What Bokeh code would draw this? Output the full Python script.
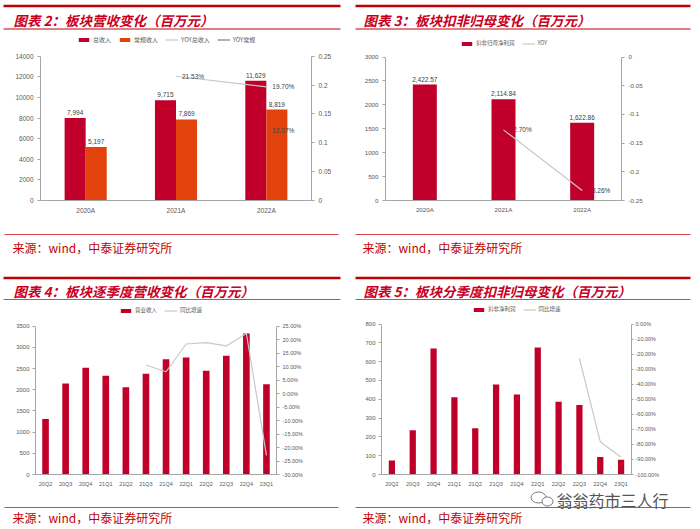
import math
from bokeh.plotting import figure
from bokeh.models import (Range1d, FactorRange, LinearAxis, FixedTicker, NumeralTickFormatter,
                          CustomJSTickFormatter, ColumnDataSource, LabelSet, Legend, LegendItem)
from bokeh.layouts import column, row
from bokeh.transform import dodge
from bokeh.core.properties import value
from bokeh.embed import file_html
from bokeh.resources import INLINE

NaN = float("nan")

# ---------------- data ----------------
titles = ["图表 2：板块营收变化（百万元）", "图表 3：板块扣非归母变化（百万元）",
          "图表 4：板块逐季度营收变化（百万元）", "图表 5：板块分季度扣非归母变化（百万元）"]
source_text = "来源：wind，中泰证券研究所"
watermark = "翁翁药市三人行"

# Panel 1
years = ["2020A", "2021A", "2022A"]
rev_total = [7994, 9715, 11629]
rev_regular = [5197, 7869, 8819]
yoy_total = [NaN, 0.2153, 0.1970]
yoy_regular = [NaN, NaN, 0.1207]
p1_left_ticks = [0, 2000, 4000, 6000, 8000, 10000, 12000, 14000]
p1_right_ticks = [0, 0.05, 0.10, 0.15, 0.20, 0.25]

# Panel 2
np_deducted = [2422.57, 2114.84, 1622.86]
np_yoy = [NaN, -0.1270, -0.2326]
p2_left_ticks = [0, 500, 1000, 1500, 2000, 2500, 3000]
p2_right_ticks = [-0.25, -0.20, -0.15, -0.10, -0.05, 0]

# Panel 3
quarters = ["20Q2", "20Q3", "20Q4", "21Q1", "21Q2", "21Q3", "21Q4",
            "22Q1", "22Q2", "22Q3", "22Q4", "23Q1"]
q_revenue = [1310, 2150, 2520, 2330, 2060, 2380, 2720, 2760, 2450, 2800, 3330, 2130]
q_rev_yoy = [NaN, NaN, NaN, NaN, NaN, 0.106, 0.081, 0.184, 0.189, 0.177, 0.223, -0.229]
p3_left_ticks = [0, 500, 1000, 1500, 2000, 2500, 3000, 3500]
p3_right_ticks = [-0.30, -0.25, -0.20, -0.15, -0.10, -0.05, 0, 0.05, 0.10, 0.15, 0.20, 0.25]

# Panel 4
q_np = [75, 235, 670, 411, 246, 479, 425, 676, 387, 370, 93, 78]
q_np_yoy = [NaN, NaN, NaN, NaN, NaN, NaN, NaN, NaN, NaN, -0.228, -0.782, -0.885]
p4_left_ticks = [0, 100, 200, 300, 400, 500, 600, 700, 800]
p4_right_ticks = [-1.0, -0.9, -0.8, -0.7, -0.6, -0.5, -0.4, -0.3, -0.2, -0.1, 0]

# ---------------- styles ----------------
RED = "#C0002A"
ORANGE = "#E2430C"
TITLE_RED = "#C8001E"
LINE_RED = "#C00000"
AX = "#A6A6A6"
TXT = "#595959"
YOY_LIGHT = "#C8C8C8"
YOY_DARK = "#7F7F7F"
NUM_FONT = "Liberation Sans"
CJK = "Noto Sans CJK SC"


def pct_lbl(v):
    return "" if math.isnan(v) else f"{v * 100:.2f}%"


def chart(cats, w, h, left, right, bottom, axis_gap, yr, yr2):
    """Frame spans the whole figure height minus bottom border; the value axes
    stop `axis_gap` px below the frame top (room for the legend)."""
    frame_h = h - bottom
    k = frame_h / (frame_h - axis_gap)
    y_rng = Range1d(yr[0], yr[0] + (yr[1] - yr[0]) * k)
    y2_rng = Range1d(yr2[0], yr2[0] + (yr2[1] - yr2[0]) * k)
    p = figure(x_range=FactorRange(factors=cats), y_range=y_rng, width=w, height=h,
               output_backend="svg", toolbar_location=None,
               min_border_left=left, min_border_right=right,
               min_border_top=0, min_border_bottom=bottom)
    p.extra_y_ranges = {"yoy": y2_rng}
    p.outline_line_color = None
    p.xgrid.visible = False
    p.ygrid.visible = False
    p.background_fill_color = "white"
    p.border_fill_color = "white"
    return p


def style_axis(ax, font_size, standoff, tick_out=3, ticks=True):
    ax.axis_line_color = AX
    ax.axis_line_width = 1
    ax.major_tick_line_color = AX if ticks else None
    ax.major_tick_out = tick_out
    ax.major_tick_in = 0
    ax.minor_tick_line_color = None
    ax.major_label_text_font_size = font_size
    ax.major_label_text_color = TXT
    ax.major_label_text_font = NUM_FONT
    ax.major_label_standoff = standoff


def finish_axes(p, yr, yr2, left_ticks, right_ticks, right_fmt, lsize, rsize, xsize,
                lstand, rstand, xstand, rtick=3):
    yl = p.yaxis[0]
    yl.ticker = FixedTicker(ticks=left_ticks)
    yl.bounds = yr
    style_axis(yl, lsize, lstand)
    ya = LinearAxis(y_range_name="yoy", ticker=FixedTicker(ticks=right_ticks), formatter=right_fmt,
                    bounds=yr2)
    style_axis(ya, rsize, rstand, tick_out=rtick)
    p.add_layout(ya, "right")
    xa = p.xaxis[0]
    style_axis(xa, xsize, xstand, ticks=False)


def make_legend(p, items, vx, vy, font_size):
    lg = Legend(items=[LegendItem(label=l, renderers=[r]) for l, r in items],
                orientation="horizontal", location=(vx, vy))
    lg.glyph_width = 13
    lg.glyph_height = 5
    lg.label_text_font_size = font_size
    lg.label_text_font = CJK
    lg.label_text_color = TXT
    lg.label_standoff = 3
    lg.label_height = 7
    lg.label_width = 0
    lg.spacing = 7
    lg.padding = 0
    lg.margin = 0
    lg.border_line_color = None
    lg.background_fill_alpha = 0
    p.add_layout(lg)


dec_fmt = CustomJSTickFormatter(code="return String(Math.round(tick*100)/100);")

TOP_H = 192   # chart row 1: y 30..222
BOT_H = 189   # chart row 2: y 300..489

# ---------------- panel 1 ----------------
P1_Y, P1_Y2 = (0, 14000), (0, 0.25)
p1 = chart(years, 350, TOP_H, 40, 39, 20, 26, P1_Y, P1_Y2)
s1 = ColumnDataSource(dict(cat=years, total=rev_total, regular=rev_regular,
                           yt=yoy_total, yr=yoy_regular,
                           total_lbl=[f"{v:,}" for v in rev_total],
                           regular_lbl=[f"{v:,}" for v in rev_regular],
                           yt_lbl=[pct_lbl(v) for v in yoy_total],
                           yr_lbl=[pct_lbl(v) for v in yoy_regular]))
bw1 = 0.233
r_tot = p1.vbar(x=dodge("cat", -bw1 / 2, range=p1.x_range), top="total", width=bw1,
                source=s1, fill_color=RED, line_color=None)
r_reg = p1.vbar(x=dodge("cat", bw1 / 2, range=p1.x_range), top="regular", width=bw1,
                source=s1, fill_color=ORANGE, line_color=None)
r_yt = p1.line(x="cat", y="yt", source=s1, y_range_name="yoy", line_color=YOY_LIGHT, line_width=1.2)
r_yr = p1.line(x="cat", y="yr", source=s1, y_range_name="yoy", line_color=YOY_DARK, line_width=1.2)
for col, off in (("total", -bw1 / 2), ("regular", bw1 / 2)):
    p1.add_layout(LabelSet(x=dodge("cat", off, range=p1.x_range), y=col, text=col + "_lbl", source=s1,
                           text_align="center", text_baseline="bottom", y_offset=3,
                           text_font=value(NUM_FONT), text_font_size="6.5px", text_color="#404040"))
for col in ("yt", "yr"):
    p1.add_layout(LabelSet(x="cat", y=col, text=col + "_lbl", source=s1, y_range_name="yoy",
                           text_align="left", text_baseline="middle", x_offset=6,
                           text_font=value(NUM_FONT), text_font_size="6.5px", text_color="#404040"))
finish_axes(p1, P1_Y, P1_Y2, p1_left_ticks, p1_right_ticks, dec_fmt,
            "6.5px", "6.5px", "6.5px", 4, 4, 3)
make_legend(p1, [("总收入", r_tot), ("常规收入", r_reg), ("YOY总收入", r_yt), ("YOY常规", r_yr)],
            37, 156, "6px")

# ---------------- panel 2 ----------------
P2_Y, P2_Y2 = (0, 3000), (-0.25, 0)
p2 = chart(years, 350, TOP_H, 35, 79, 22, 26.5, P2_Y, P2_Y2)
s2 = ColumnDataSource(dict(cat=years, np=np_deducted, yoy=np_yoy,
                           np_lbl=[f"{v:,.2f}" for v in np_deducted],
                           yoy_lbl=[pct_lbl(v) for v in np_yoy]))
r_np = p2.vbar(x="cat", top="np", width=0.305, source=s2, fill_color=RED, line_color=None)
r_y2 = p2.line(x="cat", y="yoy", source=s2, y_range_name="yoy", line_color=YOY_LIGHT, line_width=1.2)
p2.add_layout(LabelSet(x="cat", y="np", text="np_lbl", source=s2, text_align="center",
                       text_baseline="bottom", y_offset=3, text_font=value(NUM_FONT),
                       text_font_size="6.5px", text_color="#404040"))
p2.add_layout(LabelSet(x="cat", y="yoy", text="yoy_lbl", source=s2, y_range_name="yoy",
                       text_align="left", text_baseline="middle", x_offset=4, level="underlay",
                       text_font=value(NUM_FONT), text_font_size="6.5px", text_color="#404040"))
finish_axes(p2, P2_Y, P2_Y2, p2_left_ticks, p2_right_ticks, dec_fmt,
            "6.2px", "6.2px", "6.2px", 4, 4, 2)
make_legend(p2, [("扣非归母净利润", r_np), ("YOY", r_y2)], 75, 153, "5.5px")

# ---------------- panel 3 ----------------
P3_Y, P3_Y2 = (0, 3500), (-0.30, 0.25)
p3 = chart(quarters, 350, BOT_H, 35, 74, 13, 26, P3_Y, P3_Y2)
s3 = ColumnDataSource(dict(cat=quarters, rev=q_revenue, yoy=q_rev_yoy))
r_q = p3.vbar(x="cat", top="rev", width=0.33, source=s3, fill_color=RED, line_color=None)
r_qy = p3.line(x="cat", y="yoy", source=s3, y_range_name="yoy", line_color=YOY_LIGHT, line_width=1.2)
finish_axes(p3, P3_Y, P3_Y2, p3_left_ticks, p3_right_ticks, NumeralTickFormatter(format="0.00%"),
            "6px", "5.5px", "5.5px", 3, 3, 3)
make_legend(p3, [("营业收入", r_q), ("同比增速", r_qy)], 84, 160, "5.5px")

# ---------------- panel 4 ----------------
P4_Y, P4_Y2 = (0, 800), (-1.0, 0)
p4 = chart(quarters, 350, BOT_H, 31, 69, 12, 24, P4_Y, P4_Y2)
s4 = ColumnDataSource(dict(cat=quarters, np=q_np, yoy=q_np_yoy))
r_n = p4.vbar(x="cat", top="np", width=0.30, source=s4, fill_color=RED, line_color=None)
r_ny = p4.line(x="cat", y="yoy", source=s4, y_range_name="yoy", line_color=YOY_LIGHT, line_width=1.2)
finish_axes(p4, P4_Y, P4_Y2, p4_left_ticks, p4_right_ticks, NumeralTickFormatter(format="0.00%"),
            "6px", "5.5px", "5.5px", 3, 2, 3, rtick=2)
make_legend(p4, [("扣非净利润", r_n), ("同比增速", r_ny)], 91, 161, "5.5px")


# ---------------- decoration strips ----------------
def deco(h):
    p = figure(width=700, height=h, x_range=Range1d(0, 700), y_range=Range1d(h, 0),
               output_backend="svg", toolbar_location=None, min_border=0,
               x_axis_type=None, y_axis_type=None)
    p.outline_line_color = None
    p.xgrid.visible = False
    p.ygrid.visible = False
    p.background_fill_color = "white"
    p.border_fill_color = "white"
    return p


def header(p, y_thick, y_title, y_thin, texts, xl=(3, 340), xr=(355, 690)):
    p.segment(x0=[xl[0], xr[0]], y0=[y_thick] * 2, x1=[xl[1], xr[1]], y1=[y_thick] * 2,
              line_color=LINE_RED, line_width=2.3)
    p.segment(x0=[xl[0], xr[0]], y0=[y_thin] * 2, x1=[xl[1], xr[1]], y1=[y_thin] * 2,
              line_color=LINE_RED, line_width=1)
    p.text(x=[13, 363], y=[y_title] * 2, text=texts, text_font=value(CJK),
           text_font_style="bold italic", text_font_size="13.5px", text_color=TITLE_RED,
           text_baseline="middle", text_align="left")


def footer(p, y_line, y_text):
    p.segment(x0=[4, 355], y0=[y_line] * 2, x1=[338, 690], y1=[y_line] * 2,
              line_color="#D9454A", line_width=1.2)
    p.text(x=[12, 362], y=[y_text] * 2, text=[source_text] * 2, text_font=value(CJK),
           text_font_size="12px", text_color=LINE_RED, text_baseline="middle", text_align="left")


h1 = deco(30)
header(h1, 5.5, 19.5, 28.5, titles[:2])

m = deco(78)
footer(m, 12, 25)
header(m, 55.5, 68.5, 77.3, titles[2:])

f = deco(40)
footer(f, 18, 28)
f.ellipse(x=[538, 547], y=[8, 12], width=[15, 11], height=[11, 9], fill_color="white",
          line_color="#777777", line_width=1)
f.text(x=[556], y=[10.5], text=[watermark], text_font=value(CJK), text_font_size="16px",
       text_color="#555555", text_baseline="middle", text_align="left")

layout = column(h1, row(p1, p2), m, row(p3, p4), f)

open("out.html", "w").write(file_html(layout, INLINE))
